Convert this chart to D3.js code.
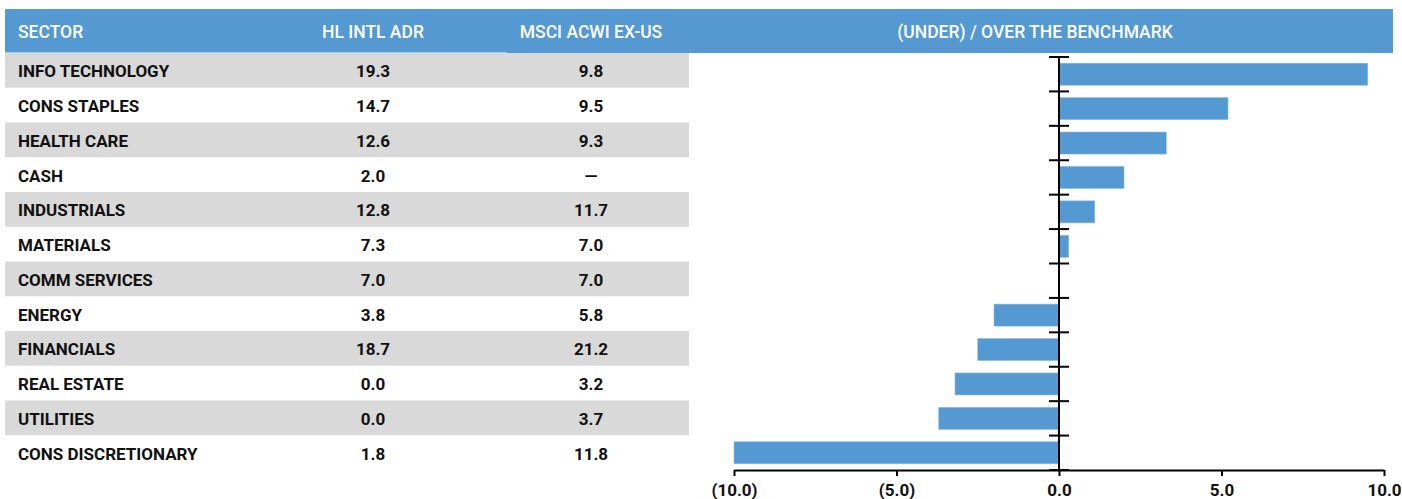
<!DOCTYPE html>
<html><head><meta charset="utf-8">
<script src="https://cdn.jsdelivr.net/npm/d3@7"></script>
<style>
body{margin:0;background:#fff;}
svg text{font-family:"Roboto",sans-serif;font-weight:bold;}
</style></head>
<body><svg id="c" width="1402" height="499"></svg>
<script>
const sectors = ["INFO TECHNOLOGY","CONS STAPLES","HEALTH CARE","CASH","INDUSTRIALS","MATERIALS","COMM SERVICES","ENERGY","FINANCIALS","REAL ESTATE","UTILITIES","CONS DISCRETIONARY"];
const hlIntlAdr = ["19.3","14.7","12.6","2.0","12.8","7.3","7.0","3.8","18.7","0.0","0.0","1.8"];
const msciAcwiExUs = ["9.8","9.5","9.3","—","11.7","7.0","7.0","5.8","21.2","3.2","3.7","11.8"];
const underOver = [9.5,5.2,3.3,2.0,1.1,0.3,0.0,-2.0,-2.5,-3.2,-3.7,-10.0];
const tickValues = [-10,-5,0,5,10];
const headers = ["SECTOR","HL INTL ADR","MSCI ACWI EX-US","(UNDER) / OVER THE BENCHMARK"];

const blue = "#5499d2", gray = "#d9d9d9";
const svg = d3.select("#c");

// header band
svg.append("rect").attr("x",5).attr("y",9).attr("width",502).attr("height",43.5).attr("fill",blue);
svg.append("rect").attr("x",507).attr("y",9).attr("width",886).attr("height",44).attr("fill",blue);
const hdrY = 32;
const hdr = svg.append("g").attr("fill","#fff").style("font-size","17.5px");
const hdrText = (x, anchor, t) => hdr.append("text").attr("x",x).attr("y",hdrY).attr("dy","0.36em")
  .attr("text-anchor",anchor).style("font-weight","500").text(t);
hdrText(18,"start",headers[0]);
hdrText(373,"middle",headers[1]);
hdrText(591,"middle",headers[2]);
hdrText(1035,"middle",headers[3]);

// table rows
const rowY = d3.scaleBand().domain(sectors).range([53, 470]);
const rows = svg.append("g").selectAll("g").data(sectors).join("g")
  .attr("transform", d => `translate(0,${rowY(d)})`);
rows.filter((d,i) => i % 2 === 0).append("rect")
  .attr("x",5).attr("width",684).attr("height",rowY.bandwidth()).attr("fill",gray);
const cell = (x, anchor, f) => rows.append("text").attr("x",x).attr("y",rowY.bandwidth()/2+1).attr("dy","0.36em")
  .attr("text-anchor",anchor).style("font-size","17px").attr("fill","#111").text(f);
cell(18,"start",d => d);
cell(373,"middle",(d,i) => hlIntlAdr[i]);
cell(591,"middle",(d,i) => msciAcwiExUs[i]);

// bar chart
const x = d3.scaleLinear().domain([-10,10]).range([734,1384]);
const y = d3.scaleBand().domain(sectors).range([57,470]).paddingInner(0.36).paddingOuter(0.18);
const data = sectors.map((s,i) => ({s, v: underOver[i]}));
svg.append("g").selectAll("rect").data(data).join("rect")
  .attr("x", d => x(Math.min(0,d.v)))
  .attr("width", d => Math.abs(x(d.v)-x(0)))
  .attr("y", d => y(d.s)).attr("height", y.bandwidth())
  .attr("fill", blue).attr("stroke","#8dbbe3").attr("stroke-width",0.6);

// vertical zero axis with band ticks
const step = (470-57)/sectors.length;
const bounds = d3.range(sectors.length+1).map(i => 57 + i*step);
const yAxisG = svg.append("g");
yAxisG.append("line").attr("x1",x(0)).attr("x2",x(0)).attr("y1",57).attr("y2",470).attr("stroke","#000").attr("stroke-width",2);
yAxisG.selectAll("line.t").data(bounds).join("line").attr("class","t")
  .attr("x1",x(0)-10).attr("x2",x(0)+10).attr("y1",d=>d).attr("y2",d=>d)
  .attr("stroke","#000").attr("stroke-width",2);

// bottom axis
const fmt = v => v < 0 ? `(${Math.abs(v).toFixed(1)})` : v.toFixed(1);
const xAxis = d3.axisBottom(x).tickValues(tickValues).tickFormat(fmt).tickSize(6).tickSizeOuter(0);
const xg = svg.append("g").attr("transform","translate(0,470)").call(xAxis);
xg.select(".domain").attr("stroke","#000").attr("stroke-width",2);
xg.selectAll(".tick line").attr("stroke","#000").attr("stroke-width",2);
xg.selectAll(".tick text").attr("fill","#111").style("font-size","17px")
  .style("font-family",'"Roboto",sans-serif').style("font-weight","bold").attr("y",14);
</script></body></html>
